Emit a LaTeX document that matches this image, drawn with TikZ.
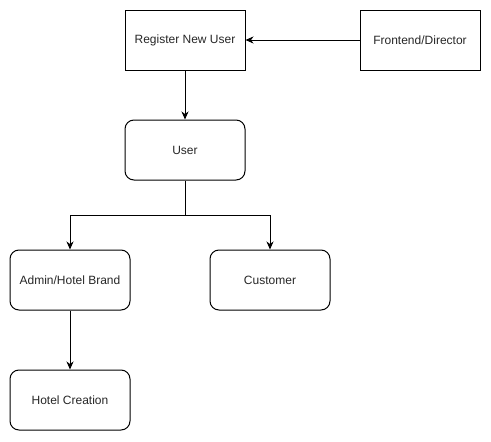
\documentclass[tikz,border=0pt]{standalone}
\usepackage{fontspec}
\setmainfont{Liberation Sans}
\usetikzlibrary{arrows.meta}
\begin{document}
\begin{tikzpicture}[x=1pt,y=-1pt,
  box/.style={draw=black,line width=1pt,minimum width=120pt,minimum height=60pt,inner sep=0pt,font=\fontsize{12}{14}\selectfont,text=black!85},
  rbox/.style={box,rounded corners=9pt},
  conn/.style={line width=1pt,-{Stealth[length=8pt,width=7pt,inset=2.5pt]}}]
\useasboundingbox (0,0) rectangle (491,442);
\node[box] (reg) at (185,40) {Register New User};
\node[box] (front) at (420,40) {Frontend/Director};
\node[rbox] (user) at (185,150) {User};
\node[rbox] (admin) at (70,280) {Admin/Hotel Brand};
\node[rbox] (cust) at (270,280) {Customer};
\node[rbox] (hotel) at (70,400) {Hotel Creation};
\coordinate (split) at (185,215);
\draw[conn] (front) -- (reg);
\draw[conn] (reg) -- (user);
\draw[conn] (user.south) -- (split) -| (admin.north);
\draw[conn] (split) -| (cust.north);
\draw[conn] (admin) -- (hotel);
\end{tikzpicture}
\end{document}
